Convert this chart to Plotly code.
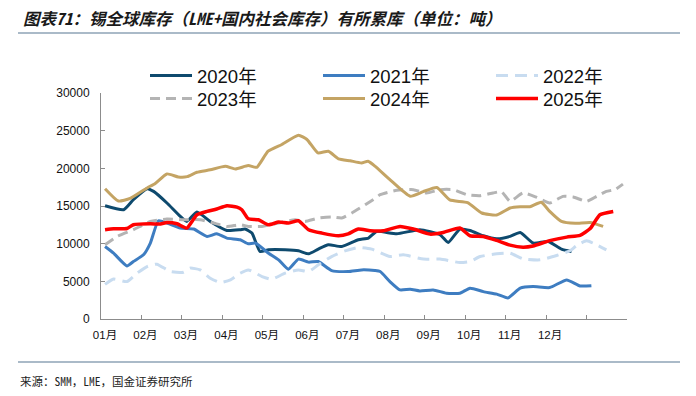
import plotly.graph_objects as go

# x positions in month units (0 = start of January), values in tonnes
x2020 = [0.10,0.56,0.80,1.14,1.30,1.63,1.96,2.12,2.37,2.70,3.11,3.44,3.56,3.73,3.93,4.14,4.55,4.88,5.13,5.37,5.62,5.95,6.36,6.61,6.81,7.31,7.88,8.38,8.58,8.87,9.12,9.45,9.78,10.11,10.36,10.68,11.05,11.38,11.63]
y2020 = [15040,14510,15840,17300,16940,15400,13620,12950,14200,12950,11750,11850,11940,11400,8960,9180,9180,9050,8650,9280,9850,9620,10520,10740,11620,11310,11850,11180,10160,11940,11750,11050,10650,10960,11490,10080,10290,9280,8960]

x2021 = [0.10,0.31,0.64,0.80,1.05,1.22,1.42,1.63,1.96,2.29,2.62,2.86,3.11,3.44,3.64,3.81,4.14,4.39,4.63,4.88,5.13,5.37,5.70,6.11,6.44,6.77,6.90,7.14,7.39,7.64,7.88,8.21,8.54,8.87,9.12,9.45,9.78,10.06,10.36,10.68,11.09,11.51,11.84,12.12]
y2021 = [9620,8740,7050,7630,8520,10080,13040,12740,12070,11940,10960,11310,10740,10520,9980,10080,8740,7850,6610,7950,7550,7630,6430,6300,6520,6430,6300,4970,3860,3950,3730,3860,3420,3420,4090,3630,3300,2800,4090,4300,4170,5190,4390,4430]

x2022 = [0.10,0.31,0.64,0.89,1.14,1.38,1.71,2.04,2.20,2.45,2.70,2.95,3.20,3.44,3.64,3.98,4.22,4.55,4.88,5.13,5.37,5.70,6.03,6.36,6.69,7.14,7.47,7.97,8.38,8.87,9.12,9.37,9.78,10.11,10.43,10.85,11.26,11.60,11.75,12.00,12.25,12.49]
y2022 = [4600,5300,4970,6080,6960,7280,6300,6210,6750,6520,5420,4840,5190,6080,6520,5630,5280,6080,6520,6300,7190,8290,9050,9490,9280,8290,8520,7950,7950,7490,7630,8290,8650,8740,7990,7850,8430,9090,9720,10380,9850,9180]

x2023 = [0.10,0.40,0.80,1.22,1.63,2.04,2.45,2.78,3.11,3.44,3.64,3.98,4.39,4.80,5.04,5.37,5.70,5.95,6.20,6.53,6.77,6.90,7.31,7.72,8.05,8.38,8.71,9.04,9.37,9.69,9.90,10.11,10.43,10.77,11.09,11.42,11.67,12.00,12.25,12.49,12.70,12.90]
y2023 = [9850,10960,11850,12950,13270,13180,13180,12740,12290,12510,12290,12290,12740,13180,12950,13400,13540,13400,14070,15170,16000,16500,17080,17170,16730,17170,17170,16500,16370,16730,16900,15610,16730,16150,15400,16280,16200,15610,16280,16940,17170,17900]

x2024 = [0.10,0.43,0.72,1.14,1.34,1.63,1.91,2.13,2.37,2.70,3.07,3.32,3.64,3.85,4.13,4.47,4.88,5.09,5.36,5.62,5.87,6.16,6.44,6.60,6.77,7.14,7.64,7.96,8.30,8.62,9.06,9.41,9.78,10.11,10.36,10.60,10.88,11.09,11.38,11.72,12.09,12.41]
y2024 = [17300,15660,16000,17400,18000,19260,18860,18900,19480,19800,20270,19920,20360,20140,22270,23160,24400,23830,22050,22270,21260,21000,20720,20940,20300,18500,16300,16900,17450,15800,15450,14070,13800,14730,14900,14900,15500,14280,12950,12700,12820,12290]

x2025 = [0.10,0.31,0.64,0.80,1.22,1.47,1.63,1.88,2.12,2.37,2.62,2.86,3.11,3.36,3.48,3.64,3.89,4.14,4.39,4.63,4.88,5.13,5.46,5.87,6.11,6.36,6.65,6.98,7.39,7.72,8.13,8.46,8.87,9.12,9.45,9.78,10.11,10.43,10.68,11.09,11.51,11.84,12.09,12.33,12.66]
y2025 = [11850,11980,12020,12510,12640,12600,12820,12640,12070,13840,14280,14600,15040,14860,14510,13310,13180,12510,12870,12740,13040,11850,11400,11050,11310,11940,11710,11710,12290,11940,11270,11490,12070,11050,10960,10430,9800,9540,9700,10400,10870,11100,12000,13840,14280]

series_names = ["2020年", "2021年", "2022年", "2023年", "2024年", "2025年"]
tick_vals = list(range(14))
tick_text = ["01月","02月","03月","04月","05月","06月","07月","08月","09月","10月","11月","12月","",""]

title_text = "图表71：锡全球库存（LME+国内社会库存）有所累库（单位：吨）"
source_text = "来源：SMM，LME，国金证券研究所"

styles = [
    dict(color="#0E4A6E", width=3, dash="solid"),
    dict(color="#3E7DC1", width=3, dash="solid"),
    dict(color="#C8DCF0", width=3, dash="12px,7px"),
    dict(color="#B4B4B4", width=3, dash="10px,6px"),
    dict(color="#C4A464", width=3, dash="solid"),
    dict(color="#FF0000", width=3.5, dash="solid"),
]
legend_ids = ["legend", "legend", "legend", "legend2", "legend2", "legend2"]
xs = [x2020, x2021, x2022, x2023, x2024, x2025]
ys = [y2020, y2021, y2022, y2023, y2024, y2025]

fig = go.Figure()
for name, x, y, st, lg in zip(series_names, xs, ys, styles, legend_ids):
    fig.add_trace(go.Scatter(x=x, y=y, name=name, mode="lines", legend=lg,
                             line=dict(color=st["color"], width=st["width"], dash=st["dash"],
                                       shape="spline", smoothing=0.5)))

FONT = "Liberation Sans, Arial, Noto Sans CJK SC, sans-serif"
MONO = "Noto Sans Mono CJK SC, Noto Sans CJK SC, sans-serif"
L, R, T, B = 101, 69, 93, 77
W, H = 696, 396
pw, ph = W - L - R, H - T - B

def px_x(X):
    return (X - L) / pw

def px_y(Y):
    return (H - B - Y) / ph

leg_common = dict(orientation="h", xanchor="left", yanchor="top",
                  font=dict(family=FONT, size=18.5, color="#111111"),
                  itemwidth=42, entrywidth=116, entrywidthmode="pixels",
                  bgcolor="rgba(0,0,0,0)", borderwidth=0)

fig.update_layout(
    width=W, height=H,
    margin=dict(l=L, r=R, t=T, b=B, pad=0),
    paper_bgcolor="white", plot_bgcolor="white",
    showlegend=True,
    legend=dict(x=px_x(145), y=px_y(57), **leg_common),
    legend2=dict(x=px_x(145), y=px_y(80), **leg_common),
    xaxis=dict(range=[0, 13], tickmode="array", tickvals=tick_vals, ticktext=tick_text,
               showgrid=False, zeroline=False, showline=True, linecolor="#8C8C8C", linewidth=1,
               ticks="inside", ticklen=4, tickcolor="#8C8C8C", ticklabelshift=4, ticklabelstandoff=5,
               tickfont=dict(family=FONT, size=11.5, color="#111111")),
    yaxis=dict(range=[0, 30000], tickvals=[0,5000,10000,15000,20000,25000,30000],
               tickformat="d", showgrid=False, zeroline=False, showline=True,
               linecolor="#8C8C8C", linewidth=1, ticks="inside", ticklen=4, tickcolor="#8C8C8C",
               ticklabelstandoff=8,
               tickfont=dict(family=FONT, size=12, color="#111111")),
    hovermode=False,
)

fig.add_annotation(text=title_text, xref="paper", yref="paper", x=px_x(21), y=px_y(18),
                   xanchor="left", yanchor="middle", showarrow=False,
                   font=dict(family=MONO, size=16.5, color="#1A1A1A",
                             style="italic", weight="bold"))
fig.add_annotation(text=source_text, xref="paper", yref="paper", x=px_x(18), y=px_y(381),
                   xanchor="left", yanchor="middle", showarrow=False,
                   font=dict(family=MONO, size=11.5, color="#222222"))
fig.add_shape(type="line", xref="paper", yref="paper", x0=px_x(18), x1=px_x(680),
              y0=px_y(33), y1=px_y(33), line=dict(color="#8EA3B6", width=1.5))
fig.add_shape(type="line", xref="paper", yref="paper", x0=px_x(18), x1=px_x(680),
              y0=px_y(362), y1=px_y(362), line=dict(color="#8EA3B6", width=1.5))

fig.write_html("out.html", config={"displayModeBar": False, "staticPlot": True},
               post_script="document.body.style.margin='0';")
